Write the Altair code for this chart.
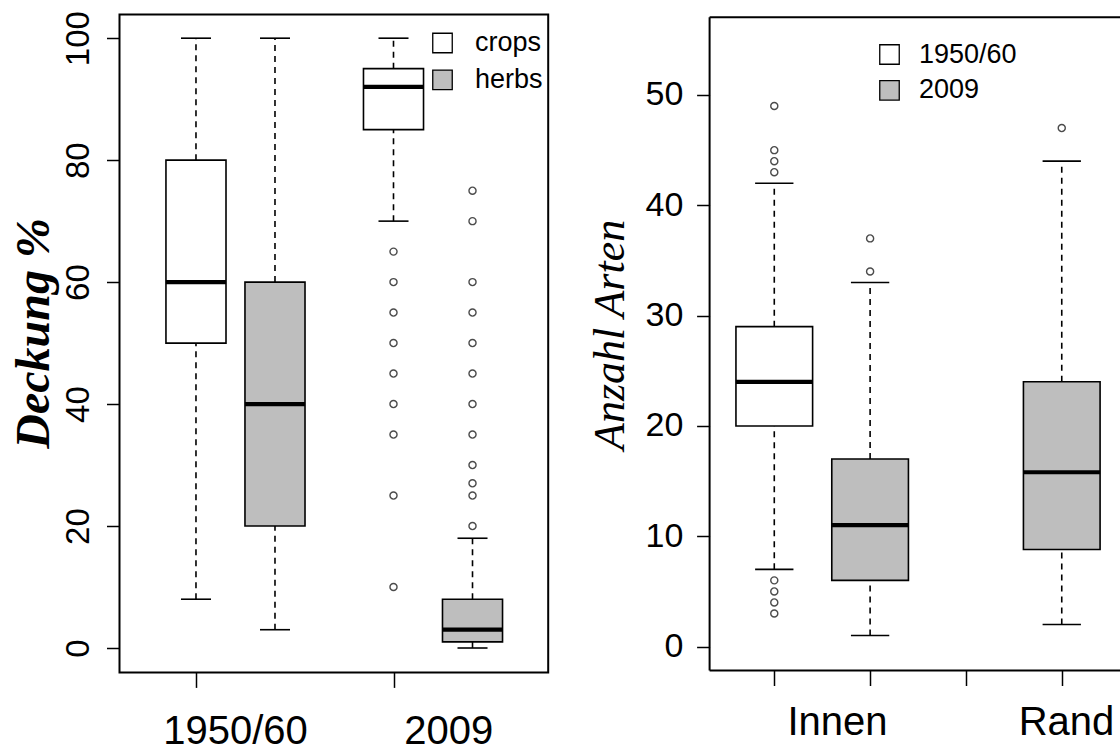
import altair as alt
import pandas as pd

# ---------------- Left panel: Deckung % ----------------
left_year = ["1950/60", "1950/60", "2009", "2009"]
left_layer = ["crops", "herbs", "crops", "herbs"]
left_pos = [1, 2, 3.5, 4.5]
left_low = [8, 3, 70, 0]
left_q1 = [50, 20, 85, 1]
left_med = [60, 40, 92, 3]
left_q3 = [80, 60, 95, 8]
left_high = [100, 100, 100, 18]
left_out_crops_2009 = [65, 60, 55, 50, 45, 40, 35, 25, 10]
left_out_herbs_2009 = [75, 70, 60, 55, 50, 45, 40, 35, 30, 27, 25, 20]
left_ticks_y = [0, 20, 40, 60, 80, 100]
left_ticks_x = [1, 3.5]
left_labels = ["1950/60", "2009"]
left_label_pos = [1.5, 4.2]
left_legend = ["crops", "herbs"]

# ---------------- Right panel: Anzahl Arten ----------------
right_year = ["1950/60", "2009", "2009"]
right_site = ["Innen", "Innen", "Rand"]
right_pos = [1, 2, 4]
right_low = [7, 1, 2]
right_q1 = [20, 6, 8.8]
right_med = [24, 11, 15.8]
right_q3 = [29, 17, 24]
right_high = [42, 33, 44]
right_out_innen_1950 = [49, 45, 44, 43, 6, 5, 4, 3]
right_out_innen_2009 = [37, 34]
right_out_rand_2009 = [47]
right_ticks_y = [0, 10, 20, 30, 40, 50]
right_ticks_x = [1, 2, 3, 4]
right_labels = ["Innen", "Rand"]
right_label_pos = [1.66, 4.05]
right_legend = ["1950/60", "2009"]

FONT = "Liberation Sans, Arial, sans-serif"
SERIF = "Liberation Serif, Times New Roman, serif"
GRAY = "#bebebe"

# panel geometry (scale domains and pixel ranges)
L = dict(xdom=[0.032, 5.458], xrng=[119.5, 548.2], ydom=[-4.0, 103.9], yrng=[672.4, 14.4])
R = dict(xdom=[0.325, 4.66], xrng=[709.6, 1125.0], ydom=[-2.17, 57.05], yrng=[670.5, 17.2])


def sc(dom, rng):
    return alt.Scale(domain=dom, range=rng, nice=False, zero=False)


def panel(G, boxes, outl, half, cap, fill_field, fill_dom, leg_x, leg_y, row_pad, lab_off,
          ticks_x, ticks_y, ylab, ycfg, labels_df, label_dy, title_cfg, closed):
    X = lambda f, **k: alt.X(f, type="quantitative", scale=sc(G["xdom"], G["xrng"]), axis=None, **k)
    Y = lambda f, **k: alt.Y(f, type="quantitative", scale=sc(G["ydom"], G["yrng"]), axis=None, **k)
    b = alt.Chart(boxes).transform_calculate(
        xa=f"datum.pos - {half}", xb=f"datum.pos + {half}",
        ca=f"datum.pos - {cap}", cb=f"datum.pos + {cap}")
    layers = []
    dash = dict(strokeDash=[6, 5], strokeWidth=1.6, color="black")
    layers.append(b.mark_rule(**dash).encode(x=X("pos"), y=Y("q3"), y2="high:Q"))
    layers.append(b.mark_rule(**dash).encode(x=X("pos"), y=Y("low"), y2="q1:Q"))
    layers.append(b.mark_rule(strokeWidth=1.6, color="black").encode(x=X("ca"), x2="cb:Q", y=Y("high")))
    layers.append(b.mark_rule(strokeWidth=1.6, color="black").encode(x=X("ca"), x2="cb:Q", y=Y("low")))
    layers.append(b.mark_rect(stroke="black", strokeWidth=1.6).encode(
        x=X("xa"), x2="xb:Q", y=Y("q1"), y2="q3:Q",
        fill=alt.Fill(f"{fill_field}:N",
                      scale=alt.Scale(domain=fill_dom, range=["white", GRAY]),
                      legend=alt.Legend(orient="none", legendX=leg_x, legendY=leg_y, title=None,
                                        symbolType="square", symbolSize=380,
                                        symbolStrokeColor="black", symbolStrokeWidth=1.3,
                                        labelFont=FONT, labelFontSize=27, labelColor="black",
                                        labelOffset=lab_off, rowPadding=row_pad, padding=0))))
    layers.append(b.mark_rule(strokeWidth=4.2, color="black").encode(x=X("xa"), x2="xb:Q", y=Y("med")))
    layers.append(alt.Chart(outl).mark_point(shape="circle", filled=False, color="black",
                                             size=50, strokeWidth=1.4).encode(x=X("pos"), y=Y("value")))
    # frame + axes
    fr = alt.Chart(pd.DataFrame({"x1": [G["xdom"][0]], "x2": [G["xdom"][1]],
                                 "y1": [G["ydom"][0]], "y2": [G["ydom"][1]]}))
    xaxis = alt.Axis(orient="bottom", values=ticks_x, labels=False, domain=False, grid=False,
                     ticks=True, tickSize=15, tickWidth=1.5, tickColor="black", title=None,
                     offset=-(751 - G["yrng"][0]))
    yaxis = alt.Axis(orient="left", values=ticks_y, domain=False, grid=False, tickSize=13,
                     tickWidth=1.5, tickColor="black", title=None, labelColor="black",
                     labelFont=FONT, labelOverlap=False, offset=-G["xrng"][0], **ycfg)
    xs = sc(G["xdom"], G["xrng"])
    ys = sc(G["ydom"], G["yrng"])
    if closed:
        layers.append(fr.mark_rect(fill="transparent", stroke="black", strokeWidth=2).encode(
            x=alt.X("x1:Q", scale=xs, axis=xaxis), x2="x2:Q",
            y=alt.Y("y1:Q", scale=ys, axis=yaxis), y2="y2:Q"))
    else:
        layers.append(fr.mark_rule(color="black", strokeWidth=2).encode(
            x=alt.X("x1:Q", scale=xs, axis=xaxis), x2="x2:Q",
            y=alt.Y("y1:Q", scale=ys, axis=yaxis)))
        layers.append(fr.mark_rule(color="black", strokeWidth=2).encode(
            x=X("x1"), x2="x2:Q", y=Y("y2")))
        layers.append(fr.mark_rule(color="black", strokeWidth=2).encode(
            x=X("x1"), y=Y("y1"), y2="y2:Q"))
    # category labels under the axis
    layers.append(alt.Chart(labels_df).transform_calculate(yb=str(G["ydom"][0])).mark_text(
        font=FONT, fontSize=40, align="center", baseline="alphabetic", dy=label_dy,
        color="black").encode(x=X("pos"), y=Y("yb"), text="label:N"))
    # rotated y title
    layers.append(alt.Chart(pd.DataFrame({"t": [ylab]})).transform_calculate(
        xf=str(G["xdom"][0]), ym=str((G["ydom"][0] + G["ydom"][1]) / 2)).mark_text(
        angle=270, align="center", baseline="alphabetic", color="black", **title_cfg).encode(
        x=X("xf"), y=Y("ym"), text="t:N"))
    return layers


left_boxes = pd.DataFrame({"year": left_year, "layer": left_layer, "pos": left_pos,
                           "low": left_low, "q1": left_q1, "med": left_med,
                           "q3": left_q3, "high": left_high})
left_outl = pd.DataFrame({"pos": [3.5] * len(left_out_crops_2009) + [4.5] * len(left_out_herbs_2009),
                          "value": left_out_crops_2009 + left_out_herbs_2009})
left_lab = pd.DataFrame({"label": left_labels, "pos": left_label_pos})

right_boxes = pd.DataFrame({"year": right_year, "site": right_site, "pos": right_pos,
                            "low": right_low, "q1": right_q1, "med": right_med,
                            "q3": right_q3, "high": right_high})
right_outl = pd.DataFrame({"pos": [1] * len(right_out_innen_1950) + [2] * len(right_out_innen_2009)
                           + [4] * len(right_out_rand_2009),
                           "value": right_out_innen_1950 + right_out_innen_2009 + right_out_rand_2009})
right_lab = pd.DataFrame({"label": right_labels, "pos": right_label_pos})

layers = panel(L, left_boxes, left_outl, 0.38, 0.19, "layer", left_legend, 429, 29.5, 8.8, 19,
               left_ticks_x, left_ticks_y, "Deckung %",
               dict(labelAngle=270, labelAlign="center", labelBaseline="bottom",
                    labelFontSize=33, labelPadding=10.7),
               left_lab, 71.5,
               dict(font=SERIF, fontSize=48, fontWeight="bold", fontStyle="italic", dy=-71, dx=10),
               True)
layers += panel(R, right_boxes, right_outl, 0.4, 0.2, "year", right_legend, 876, 41, 7.8, 16,
                right_ticks_x, right_ticks_y, "Anzahl Arten",
                dict(labelAngle=0, labelAlign="right", labelBaseline="middle",
                     labelFontSize=34, labelPadding=13.7),
                right_lab, 64,
                dict(font=SERIF, fontSize=44, fontStyle="italic", dy=-85.6, dx=9),
                False)

chart = alt.layer(*layers).resolve_scale(
    x="independent", y="independent", fill="independent"
).resolve_legend(fill="independent").properties(
    width=1120, height=751, padding=0, autosize=alt.AutoSizeParams(type="none"),
    background="white"
).configure_view(stroke=None)

chart.save("out.html", embed_options={"renderer": "svg", "actions": False})
